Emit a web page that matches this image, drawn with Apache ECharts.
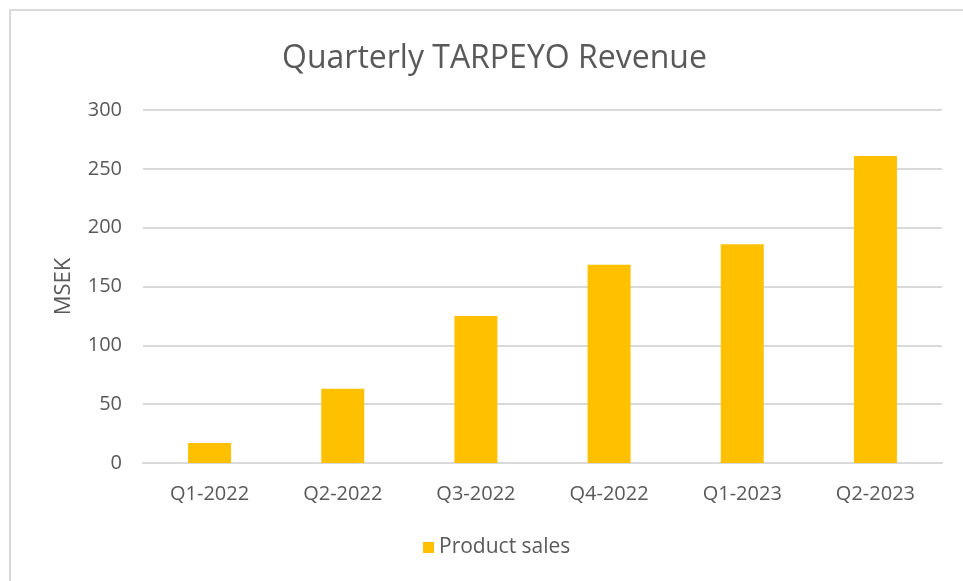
<!DOCTYPE html>
<html>
<head>
<meta charset="utf-8">
<script src="https://cdn.jsdelivr.net/npm/echarts@6/dist/echarts.min.js"></script>
<style>html,body{margin:0;padding:0;background:#fff;}#c{width:963px;height:581px;}</style>
</head>
<body>
<div id="c"></div>
<script>
var categories = ['Q1-2022','Q2-2022','Q3-2022','Q4-2022','Q1-2023','Q2-2023'];
var productSales = [17, 63, 125, 168.5, 186, 261];
var seriesName = 'Product sales';
var titleText = 'Quarterly TARPEYO Revenue';
var yAxisName = 'MSEK';

var font = 'Open Sans';
var chart = echarts.init(document.getElementById('c'));
chart.setOption({
  backgroundColor: '#fff',
  animation: false,
  graphic: [{
    type: 'rect', silent: true,
    shape: { x: 10, y: 10, width: 1200, height: 1200 },
    style: { fill: 'none', stroke: '#d9d9d9', lineWidth: 2 }
  }],
  title: {
    text: titleText, left: 277, top: 38,
    textStyle: { fontFamily: font, fontSize: 32, fontWeight: 'normal', color: '#595959' }
  },
  legend: {
    data: [seriesName], bottom: 18, left: 418,
    itemWidth: 11, itemHeight: 11, icon: 'rect', itemGap: 10,
    textStyle: { fontFamily: font, fontSize: 21, color: '#595959' }
  },
  grid: { left: 143, right: 21, top: 110, bottom: 118, containLabel: false },
  xAxis: {
    type: 'category', data: categories,
    axisLine: { lineStyle: { color: '#d9d9d9', width: 2 } },
    axisTick: { show: false },
    axisLabel: { fontFamily: font, fontSize: 20, color: '#595959', margin: 21 }
  },
  yAxis: {
    type: 'value', min: 0, max: 300, interval: 50,
    name: yAxisName, nameLocation: 'middle', nameGap: 68, nameRotate: 90,
    nameTextStyle: { fontFamily: font, fontSize: 22, color: '#595959' },
    axisLine: { show: false }, axisTick: { show: false },
    splitLine: { lineStyle: { color: '#d9d9d9', width: 2 } },
    axisLabel: { fontFamily: font, fontSize: 20, color: '#595959', margin: 21 }
  },
  series: [{
    name: seriesName, type: 'bar', data: productSales, barWidth: 43,
    itemStyle: { color: '#ffc000' }
  }]
});
</script>
</body>
</html>
